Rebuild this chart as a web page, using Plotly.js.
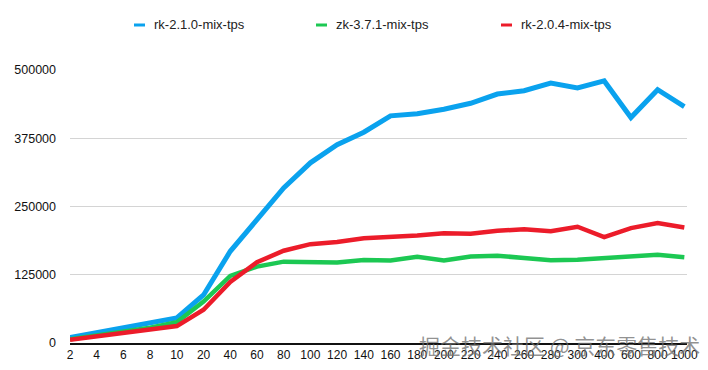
<!DOCTYPE html>
<html>
<head>
<meta charset="utf-8">
<script src="https://cdn.plot.ly/plotly-3.0.1.min.js"></script>
<style>html,body{margin:0;padding:0;background:#fff;}#chart{width:708px;height:370px;}</style>
</head>
<body>
<div id="chart"></div>
<script>
const categories = ["2","4","6","8","10","20","40","60","80","100","120","140","160","180","200","220","240","260","280","300","400","600","800","1000"];
const rk210 = [10000,19000,28000,37000,46000,88000,168000,226000,284000,330000,363000,386000,416000,420000,428000,439000,456000,462000,476000,467000,480000,413000,464000,433000];
const zk371 = [7000,14000,21000,28000,38000,76000,123000,140000,149000,147500,147500,152000,151000,158000,151000,158500,160000,155500,151500,152500,155500,157000,161500,157000];
const rk204 = [6000,12000,18000,24000,31000,61000,112000,148000,169000,181000,185000,192000,194000,197000,201000,200000,205500,208500,204500,213000,194000,210500,219500,211500];
const seriesNames = ["rk-2.1.0-mix-tps","zk-3.7.1-mix-tps","rk-2.0.4-mix-tps"];
const yTicks = [0,125000,250000,375000,500000];

const colors = ["#0AA2EE","#1CC853","#EC1C2A"];
const widths = [5,4.5,4.5];
const seriesData = [rk210, zk371, rk204];

const traces = seriesData.map((d,i)=>({
  type:"scatter", mode:"lines", name:seriesNames[i],
  x: categories.map((c,j)=>j), y:d,
  line:{color:colors[i], width:widths[i], shape:"linear"},
  showlegend:false, hoverinfo:"skip"
}));

// manual legend (swatch + label), placed in paper coordinates
const legX = [134,316,501];
const shapes = [];
const annotations = [];
const L = 70, R = 21, T = 70, B = 27, W = 708, H = 370;
const px = x => (x - L) / (W - L - R);
const py = y => (H - B - y) / (H - T - B);
legX.forEach((x,i)=>{
  shapes.push({type:"line", xref:"paper", yref:"paper", x0:px(x), x1:px(x+11), y0:py(25), y1:py(25),
    line:{color:colors[i], width:3}});
  annotations.push({xref:"paper", yref:"paper", x:px(x+18), y:py(25), xanchor:"left", yanchor:"middle",
    text:seriesNames[i], showarrow:false, font:{family:"Liberation Sans, Arial", size:13, color:"#222"}});
});
annotations.push({xref:"paper", yref:"paper", x:px(559), y:py(345), xanchor:"center", yanchor:"middle",
  text:"掘金技术社区 @ 京东零售技术", showarrow:false,
  font:{family:"Noto Sans CJK SC", size:21, color:"rgba(110,110,110,0.75)"}});

const layout = {
  width:W, height:H,
  margin:{l:L, r:R, t:T, b:B, pad:0},
  paper_bgcolor:"#fff", plot_bgcolor:"#fff",
  showlegend:false,
  font:{family:"Liberation Sans, Arial", size:12, color:"#111"},
  xaxis:{
    range:[0,23.1], tickmode:"array", tickvals:categories.map((c,j)=>j), ticktext:categories,
    showgrid:false, zeroline:false, showline:true, linecolor:"#111", linewidth:1.5,
    ticks:"", tickfont:{size:12, color:"#111"}, fixedrange:true
  },
  yaxis:{
    range:[0,500000], tickmode:"array", tickvals:yTicks, ticktext:yTicks.map(String),
    showgrid:true, gridcolor:"#d4d4d4", gridwidth:1, zeroline:false, showline:false,
    ticks:"", ticklabelstandoff:13, tickfont:{size:12.5, color:"#111"}, fixedrange:true
  },
  shapes:shapes, annotations:annotations
};
Plotly.newPlot("chart", traces, layout, {displayModeBar:false, staticPlot:true});
</script>
</body>
</html>
